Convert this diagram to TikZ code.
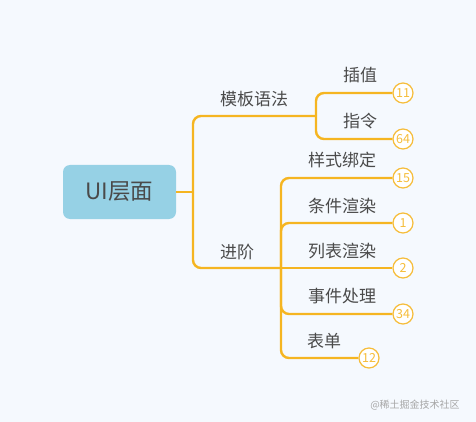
\documentclass[tikz,border=0pt]{standalone}
\usepackage{fontspec}
\setmainfont{Noto Sans CJK SC}
\newfontfamily\cjk{Noto Sans CJK SC}
\definecolor{bgc}{HTML}{F5F9FE}
\definecolor{linec}{HTML}{F5B521}
\definecolor{circc}{HTML}{F6BD3A}
\definecolor{txtc}{HTML}{4A4A4A}
\definecolor{rootc}{HTML}{96D1E5}
\begin{document}
\begin{tikzpicture}[x=1pt,y=-1pt,
  conn/.style={draw=linec,line width=2.4pt,rounded corners=8pt},
  lbl/.style={text=txtc,font=\cjk\fontsize{17}{20}\selectfont,inner sep=0pt},
  cnt/.style={circle,draw=circc,line width=1.2pt,fill=white,text=circc,minimum size=20pt,inner sep=0pt,font=\fontsize{12.5}{13}\selectfont}]
\fill[bgc] (0,0) rectangle (476,422);
\useasboundingbox (0,0) rectangle (476,422);
\node[fill=rootc,rounded corners=7pt,minimum width=113pt,minimum height=54pt,text=txtc,font=\cjk\fontsize{22.5}{26}\selectfont] (root) at (119.5,192) {UI层面};
\coordinate (j0) at (193,192);
\coordinate (j1) at (316,116);
\coordinate (j2) at (281,268);
% counters
\node[cnt] (c11) at (403,93) {11};
\node[cnt] (c64) at (403,139) {64};
\node[cnt] (c15) at (403,178) {15};
\node[cnt] (c1) at (403,223) {1};
\node[cnt] (c2) at (403,268) {2};
\node[cnt] (c34) at (403,314) {34};
\node[cnt] (c12) at (369,358) {12};
% connectors
\draw[conn] (root.east) -- (j0);
\draw[conn] (j0) |- (j1);
\draw[conn] (j0) |- (j2);
\draw[conn] (j1) |- (c11.west);
\draw[conn] (j1) |- (c64.west);
\draw[conn] (j2) |- (c15.west);
\draw[conn] (j2) |- (c1.west);
\draw[conn] (j2) -- (c2.west);
\draw[conn] (j2) |- (c34.west);
\draw[conn] (j2) |- (c12.west);
% labels
\node[lbl] (l1) at (254,99) {模板语法};
\node[lbl] (l2) at (237,252) {进阶};
\node[lbl] (l3) at (360,75) {插值};
\node[lbl] (l4) at (360,121) {指令};
\node[lbl] (l5) at (342,160) {样式绑定};
\node[lbl] (l6) at (342,206) {条件渲染};
\node[lbl] (l7) at (342,251) {列表渲染};
\node[lbl] (l8) at (342,296) {事件处理};
\node[lbl] (l9) at (324,341) {表单};
\node[text=black!35,font=\cjk\fontsize{10}{11}\selectfont,inner sep=0pt] (wm) at (415,405) {@稀土掘金技术社区};
\end{tikzpicture}
\end{document}
